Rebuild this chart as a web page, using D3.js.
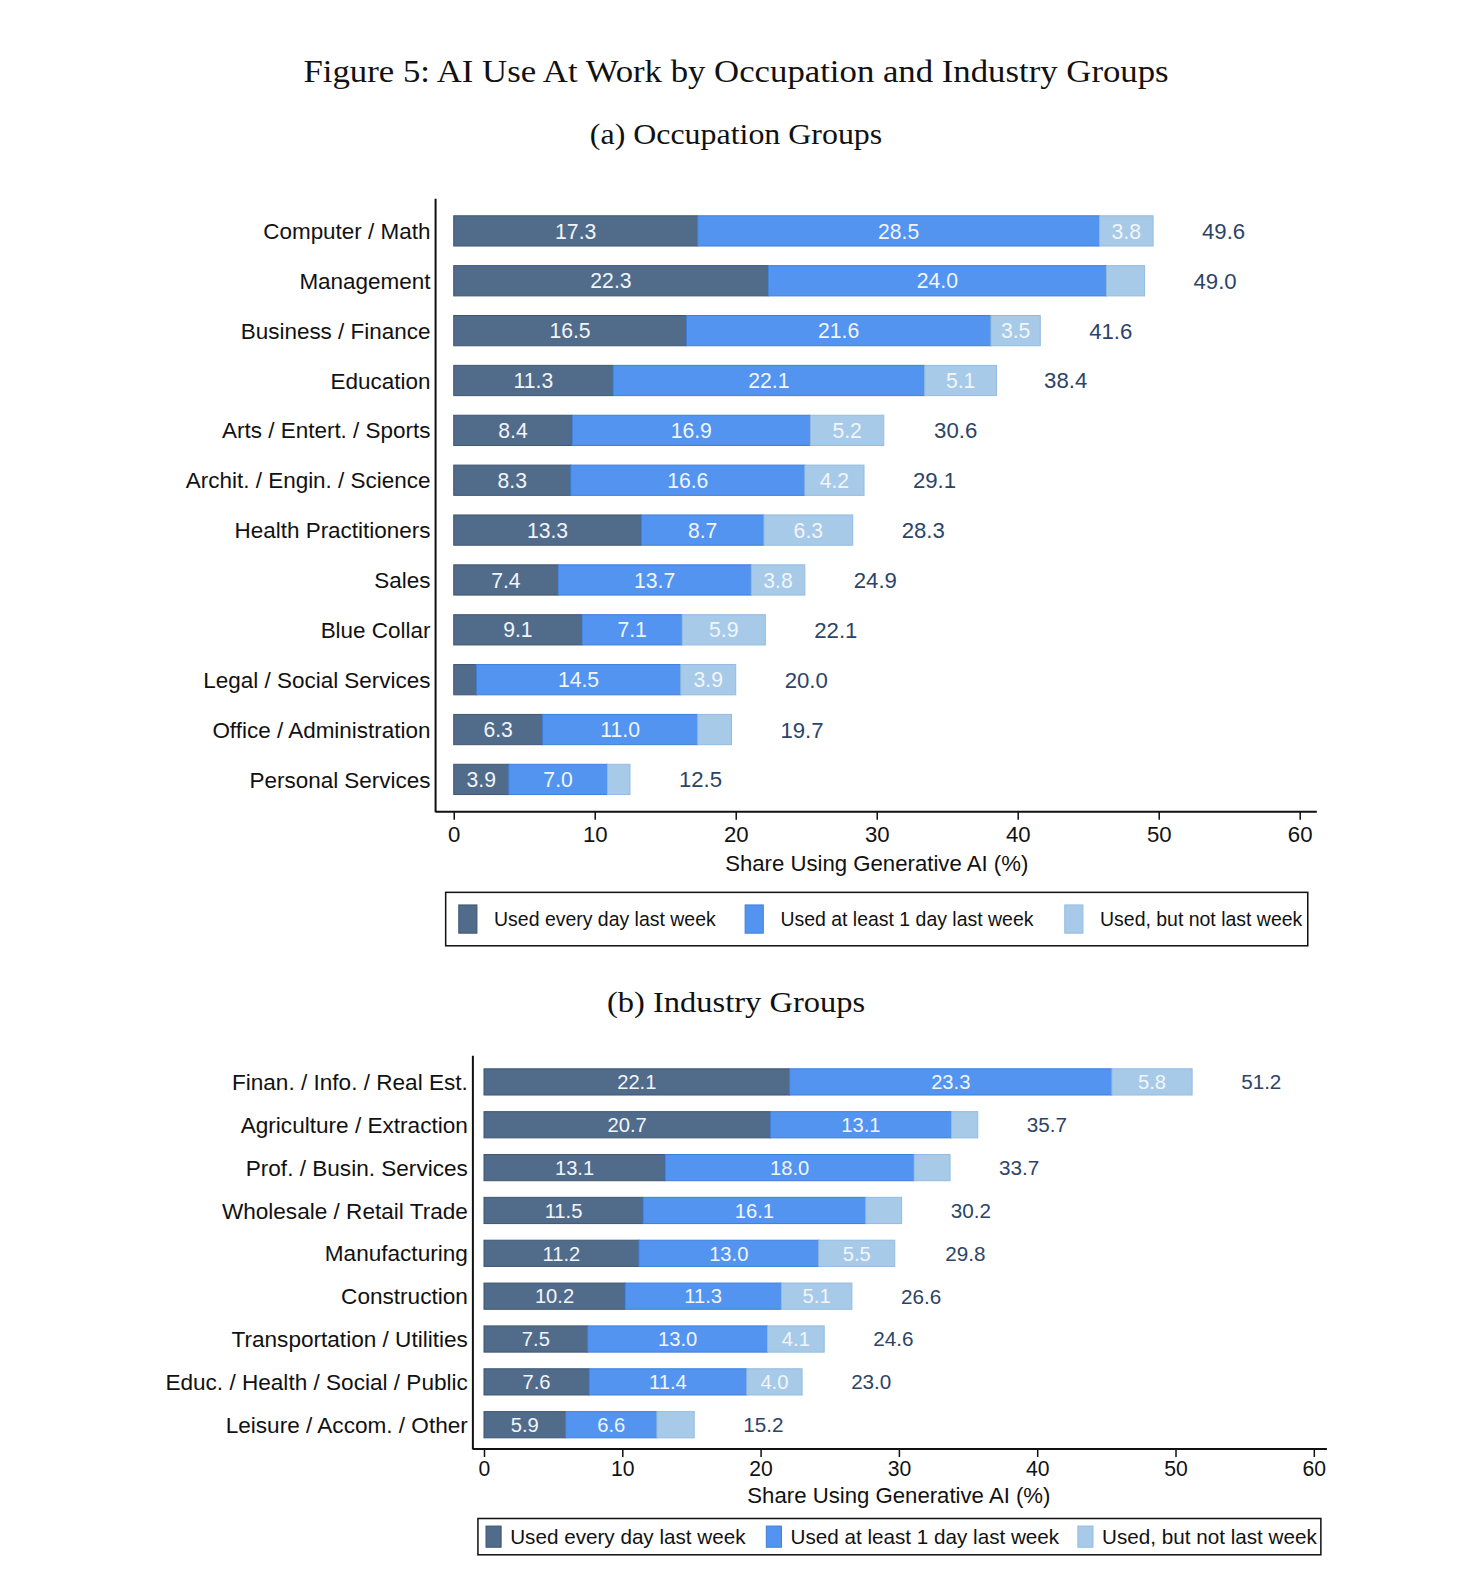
<!DOCTYPE html>
<html>
<head>
<meta charset="utf-8">
<script src="https://cdn.jsdelivr.net/npm/d3@7/dist/d3.min.js"></script>
<style>
  html, body { margin: 0; padding: 0; background: #fff; overflow: hidden; }
  svg { display: block; }
</style>
</head>
<body>
<svg id="chart" width="1481" height="1581"></svg>
<script>
// ---------------- DATA ----------------
const occCategories = ["Computer / Math", "Management", "Business / Finance", "Education",
  "Arts / Entert. / Sports", "Archit. / Engin. / Science", "Health Practitioners", "Sales",
  "Blue Collar", "Legal / Social Services", "Office / Administration", "Personal Services"];
const occDaily   = [17.3, 22.3, 16.5, 11.3, 8.4, 8.3, 13.3, 7.4, 9.1, 1.6, 6.3, 3.9];
const occWeekly  = [28.5, 24.0, 21.6, 22.1, 16.9, 16.6, 8.7, 13.7, 7.1, 14.5, 11.0, 7.0];
const occNotWeek = [3.8, 2.7, 3.5, 5.1, 5.2, 4.2, 6.3, 3.8, 5.9, 3.9, 2.4, 1.6];
const occTotals  = [49.6, 49.0, 41.6, 38.4, 30.6, 29.1, 28.3, 24.9, 22.1, 20.0, 19.7, 12.5];

const indCategories = ["Finan. / Info. / Real Est.", "Agriculture / Extraction", "Prof. / Busin. Services",
  "Wholesale / Retail Trade", "Manufacturing", "Construction", "Transportation / Utilities",
  "Educ. / Health / Social / Public", "Leisure / Accom. / Other"];
const indDaily   = [22.1, 20.7, 13.1, 11.5, 11.2, 10.2, 7.5, 7.6, 5.9];
const indWeekly  = [23.3, 13.1, 18.0, 16.1, 13.0, 11.3, 13.0, 11.4, 6.6];
const indNotWeek = [5.8, 1.9, 2.6, 2.6, 5.5, 5.1, 4.1, 4.0, 2.7];
const indTotals  = [51.2, 35.7, 33.7, 30.2, 29.8, 26.6, 24.6, 23.0, 15.2];

const xTicks = [0, 10, 20, 30, 40, 50, 60];
const seriesLabels = ["Used every day last week", "Used at least 1 day last week", "Used, but not last week"];
const titleText = "Figure 5: AI Use At Work by Occupation and Industry Groups";
const panelATitle = "(a) Occupation Groups";
const panelBTitle = "(b) Industry Groups";
const axisTitle = "Share Using Generative AI (%)";

// ---------------- STYLE ----------------
const colors = ["#516b8a", "#5294f0", "#a7cae9"];
const strokes = ["#3f5675", "#3f7fd8", "#93bbe0"];
const sans = "'Liberation Sans', Arial, sans-serif";
const serif = "'Liberation Serif', 'DejaVu Serif', serif";
const totalColor = "#2c4468";

const svg = d3.select("#chart").append("g").attr("transform", "scale(1.0083)");

svg.append("text").attr("x", 730).attr("y", 81).attr("text-anchor", "middle")
  .attr("font-family", serif).attr("font-size", 31).attr("fill", "#111")
  .attr("textLength", 858).attr("lengthAdjust", "spacingAndGlyphs")
  .text(titleText);

function drawPanel(cfg) {
  const g = svg.append("g");
  g.append("text").attr("x", 730).attr("y", cfg.titleY).attr("text-anchor", "middle")
    .attr("font-family", serif).attr("font-size", 29).attr("fill", "#111")
    .attr("textLength", cfg.titleLen).attr("lengthAdjust", "spacingAndGlyphs")
    .text(cfg.title);

  const x = d3.scaleLinear().domain([0, 60]).range(cfg.xRange);
  const y = d3.scalePoint().domain(cfg.categories).range(cfg.yRange);

  const rows = cfg.categories.map((c, i) => {
    const vals = [cfg.daily[i], cfg.weekly[i], cfg.notWeek[i]];
    let acc = 0;
    const segs = vals.map((v, k) => { const s = {k, v, x0: acc, x1: acc + v}; acc += v; return s; });
    return {c, segs, total: cfg.totals[i]};
  });

  const rowG = g.selectAll("g.row").data(rows).enter().append("g")
    .attr("transform", d => `translate(0,${y(d.c)})`);

  rowG.selectAll("rect").data(d => d.segs).enter().append("rect")
    .attr("x", s => x(s.x0))
    .attr("y", -cfg.barH / 2)
    .attr("width", s => x(s.x1) - x(s.x0))
    .attr("height", cfg.barH)
    .attr("fill", s => colors[s.k])
    .attr("stroke", s => strokes[s.k])
    .attr("stroke-width", 1);

  rowG.selectAll("text.seg").data(d => d.segs.filter(s => s.v >= 3)).enter().append("text")
    .attr("class", "seg")
    .attr("x", s => (x(s.x0) + x(s.x1)) / 2)
    .attr("y", 0).attr("dy", "0.36em")
    .attr("text-anchor", "middle")
    .attr("font-family", sans).attr("font-size", cfg.segFont)
    .attr("fill", "#f2f5fa")
    .text(s => s.v.toFixed(1));

  rowG.append("text")
    .attr("x", d => x(d.total + 5))
    .attr("y", 0).attr("dy", "0.36em")
    .attr("text-anchor", "middle")
    .attr("font-family", sans).attr("font-size", cfg.totFont)
    .attr("fill", totalColor)
    .text(d => d.total.toFixed(1));

  // category labels
  g.selectAll("text.cat").data(cfg.categories).enter().append("text")
    .attr("x", cfg.axisX - 5).attr("y", d => y(d)).attr("dy", "0.36em")
    .attr("text-anchor", "end")
    .attr("font-family", sans).attr("font-size", cfg.catFont).attr("fill", "#111")
    .text(d => d);

  // axis lines
  g.append("line").attr("x1", cfg.axisX).attr("x2", cfg.axisX)
    .attr("y1", cfg.axisTop).attr("y2", cfg.axisY + 0.5)
    .attr("stroke", "#111").attr("stroke-width", 2);
  const xAxis = d3.axisBottom(x).tickValues(cfg.ticks).tickSize(8).tickPadding(cfg.tickPad).tickSizeOuter(0);
  const ax = g.append("g").attr("transform", `translate(0,${cfg.axisY})`).call(xAxis);
  ax.select(".domain").remove();
  ax.append("line").attr("x1", cfg.axisX).attr("x2", cfg.axisRight).attr("y1", 0).attr("y2", 0)
    .attr("stroke", "#111").attr("stroke-width", 2);
  ax.selectAll(".tick line").attr("stroke", "#111").attr("stroke-width", 1.5);
  ax.selectAll(".tick text").attr("font-family", sans).attr("font-size", cfg.tickFont).attr("fill", "#111");

  g.append("text").attr("x", (cfg.xRange[0] + cfg.xRange[1]) / 2 + 0).attr("y", cfg.axisTitleY)
    .attr("text-anchor", "middle").attr("font-family", sans).attr("font-size", cfg.axisTitleFont)
    .attr("fill", "#111").text(axisTitle);

  // legend
  const L = cfg.legend;
  g.append("rect").attr("x", L.x).attr("y", L.y).attr("width", L.w).attr("height", L.h)
    .attr("fill", "#fff").attr("stroke", "#111").attr("stroke-width", 1.5);
  const items = g.selectAll("g.leg").data(seriesLabels).enter().append("g")
    .attr("transform", (d, i) => `translate(${L.itemX[i]},${L.y + L.h / 2})`);
  items.append("rect").attr("x", 0).attr("y", -L.swH / 2).attr("width", L.swW).attr("height", L.swH)
    .attr("fill", (d, i) => colors[i]).attr("stroke", (d, i) => strokes[i]);
  items.append("text").attr("x", L.textDx).attr("y", 0).attr("dy", "0.36em")
    .attr("font-family", sans).attr("font-size", L.font).attr("fill", "#111").text(d => d);
}

drawPanel({
  title: panelATitle, titleY: 143, titleLen: 290,
  categories: occCategories, daily: occDaily, weekly: occWeekly, notWeek: occNotWeek, totals: occTotals,
  xRange: [450, 1289], yRange: [229, 773], barH: 30,
  axisX: 432, axisTop: 197, axisY: 805, axisRight: 1306,
  ticks: xTicks, tickFont: 22, tickPad: 6, catFont: 22.3, segFont: 21, totFont: 22,
  axisTitleY: 864, axisTitleFont: 22,
  legend: {x: 442, y: 885, w: 855, h: 53, itemX: [455, 739, 1056], swW: 18, swH: 28, textDx: 35, font: 19.3}
});

drawPanel({
  title: panelBTitle, titleY: 1004, titleLen: 256,
  categories: indCategories, daily: indDaily, weekly: indWeekly, notWeek: indNotWeek, totals: indTotals,
  xRange: [480, 1303], yRange: [1073, 1413], barH: 26,
  axisX: 469, axisTop: 1047, axisY: 1437, axisRight: 1316,
  ticks: xTicks, tickFont: 21, tickPad: 4, catFont: 22.4, segFont: 20, totFont: 20.5,
  axisTitleY: 1491, axisTitleFont: 22,
  legend: {x: 474, y: 1506, w: 836, h: 36, itemX: [482, 760, 1069], swW: 15, swH: 21, textDx: 24, font: 20.5}
});
</script>
</body>
</html>
